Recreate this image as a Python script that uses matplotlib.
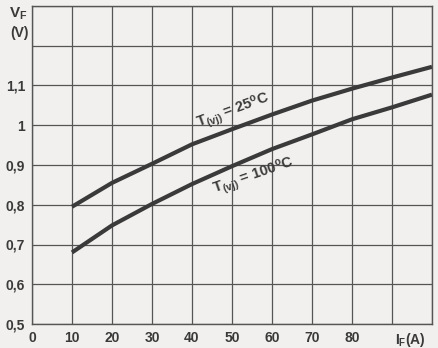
import matplotlib
matplotlib.use("Agg")
import matplotlib.pyplot as plt

# forward current I_F (A)
current = [10, 20, 30, 40, 50, 60, 70, 80, 90, 100]
# forward voltage V_F (V)
vf_25 = [0.795, 0.855, 0.903, 0.952, 0.99, 1.027, 1.062, 1.092, 1.12, 1.147]
vf_100 = [0.68, 0.748, 0.802, 0.852, 0.897, 0.94, 0.977, 1.015, 1.045, 1.077]

xticks = [0, 10, 20, 30, 40, 50, 60, 70, 80, 90, 100]
xticklabels = ["0", "10", "20", "30", "40", "50", "60", "70", "80", "", ""]
yticks = [0.5, 0.6, 0.7, 0.8, 0.9, 1.0, 1.1, 1.2, 1.3]
yticklabels = ["0,5", "0,6", "0,7", "0,8", "0,9", "1", "1,1", "", ""]

plt.rcParams["font.family"] = ["Liberation Sans", "DejaVu Sans"]
plt.rcParams["mathtext.fontset"] = "custom"
plt.rcParams["mathtext.rm"] = "Liberation Sans:bold"
plt.rcParams["mathtext.it"] = "Liberation Sans:bold"

bg = "#f1f0ee"
ink = "#3a3a3a"

fig = plt.figure(figsize=(4.38, 3.48), dpi=100, facecolor=bg)
ax = fig.add_axes([32 / 438, 24 / 348, 400 / 438, 318 / 348], facecolor=bg)

ax.plot(current, vf_25, color=ink, lw=3.0, solid_capstyle="butt")
ax.plot(current, vf_100, color=ink, lw=3.0, solid_capstyle="butt")

ax.set_xlim(0, 100)
ax.set_ylim(0.5, 1.3)
ax.set_xticks(xticks)
ax.set_xticklabels(xticklabels)
ax.set_yticks(yticks)
ax.set_yticklabels(yticklabels)
ax.grid(True, color="#555555", lw=0.9)
ax.tick_params(length=0, pad=5, labelsize=10, colors=ink)
for lab in ax.get_xticklabels() + ax.get_yticklabels():
    lab.set_fontweight("bold")
for s in ax.spines.values():
    s.set_color("#555555")
    s.set_linewidth(1.0)

# axis captions
fig.text(27 / 438, 1 - 14 / 348, "V$_{\\rm F}$", ha="right", va="center",
         fontsize=11, fontweight="bold", color=ink)
fig.text(29 / 438, 1 - 33 / 348, "(V)", ha="right", va="center",
         fontsize=10, fontweight="bold", color=ink)
fig.text(410 / 438, 1 - 340 / 348, "I$_{\\rm F}$(A)", ha="center", va="center",
         fontsize=10, fontweight="bold", color=ink)

# curve labels
ax.text(50.3, 1.036, "T$_{\\rm (vj)}$ = 25$^{\\rm o}$C", rotation=20,
        ha="center", va="center", fontsize=10.5, fontweight="bold", color=ink)
ax.text(55.5, 0.872, "T$_{\\rm (vj)}$ = 100$^{\\rm o}$C", rotation=19,
        ha="center", va="center", fontsize=10.5, fontweight="bold", color=ink)

fig.savefig("out.png", dpi=100, facecolor=bg)
